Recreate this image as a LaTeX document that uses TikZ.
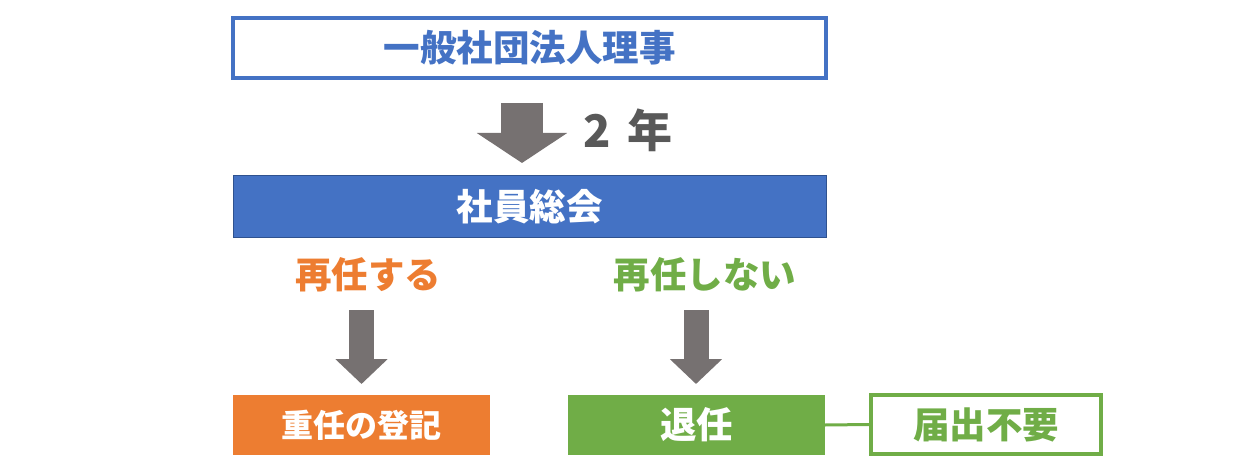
\documentclass[tikz,border=0pt]{standalone}
\usepackage{fontspec}
\setmainfont{Noto Sans CJK JP}
\usetikzlibrary{arrows.meta}
\definecolor{cblue}{HTML}{4472C4}
\definecolor{cblued}{HTML}{2F528F}
\definecolor{corange}{HTML}{ED7D31}
\definecolor{cgreen}{HTML}{70AD47}
\definecolor{cgray}{HTML}{767171}
\definecolor{ctext}{HTML}{595959}
\tikzset{
  box/.style={rectangle, inner sep=0pt, minimum width=257pt, minimum height=60pt, font=\fontsize{36.5}{42}\selectfont\bfseries},
  smallarrow/.style={line width=25pt, cgray, -{Triangle[length=25pt,width=51pt]}},
  bigarrow/.style={line width=42pt, cgray, -{Triangle[length=30pt,width=89pt]}},
  lbl/.style={inner sep=0pt, font=\fontsize{36.5}{42}\selectfont\bfseries}
}
\begin{document}
\begin{tikzpicture}[x=1pt,y=-1pt]
\useasboundingbox (0,0) rectangle (1248,476);
\node[box, minimum width=593pt, draw=cblue, line width=3.5pt, text=cblue] (top) at (529.5,48) {一般社団法人理事};
\node[box, minimum width=593pt, minimum height=61pt, fill=cblue, draw=cblued, line width=1pt, text=white] (sokai) at (529.5,206.5) {社員総会};
\node[lbl, text=ctext, font=\fontsize{45}{50}\selectfont\bfseries] (nen) at (628,130) {2\hspace{0.35em}年};
\node[lbl, text=corange] (suru) at (368,275) {再任する};
\node[lbl, text=cgreen] (shinai) at (705,275) {再任しない};
\node[box, fill=corange, text=white, font=\fontsize{32}{38}\selectfont\bfseries] (choju) at (361.5,425) {重任の登記};
\node[box, fill=cgreen, text=white] (tainin) at (696.5,425) {退任};
\node[box, minimum width=230pt, minimum height=59pt, draw=cgreen, line width=3.5pt, text=cgreen] (todoke) at (986,424.5) {届出不要};
\coordinate (a1s) at (522,103);
\coordinate (a1e) at (522,163);
\coordinate (a2s) at (361.5,310);
\coordinate (a2e) at (361.5,384);
\coordinate (a3s) at (696,310);
\coordinate (a3e) at (696,384);
\draw[bigarrow] (a1s) -- (a1e);
\draw[smallarrow] (a2s) -- (a2e);
\draw[smallarrow] (a3s) -- (a3e);
\draw[cgreen, line width=3pt] (tainin.east) -- (todoke.west);
\end{tikzpicture}
\end{document}
